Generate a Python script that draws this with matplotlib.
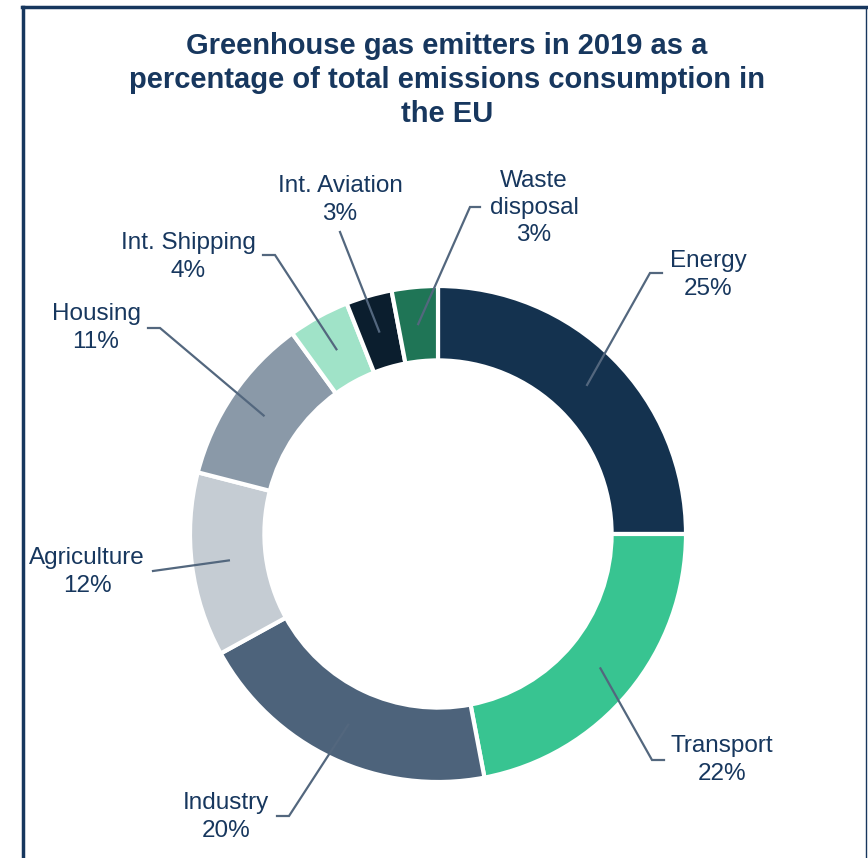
import matplotlib.pyplot as plt
import numpy as np
from matplotlib.lines import Line2D

plt.rcParams['font.family'] = ['Liberation Sans', 'DejaVu Sans']

labels = ["Energy", "Transport", "Industry", "Agriculture", "Housing",
          "Int. Shipping", "Int. Aviation", "Waste\ndisposal"]
values = [25, 22, 20, 12, 11, 4, 3, 3]
colors = ["#14324f", "#38c491", "#4d637b", "#c5ccd3", "#8a99a8",
          "#a0e3c8", "#0b1e2e", "#1f7556"]

W, H = 868, 858
txt_col = "#17375e"
line_col = "#53677e"

# layout of the labels in image pixels: text centre, elbow, end of leader
text_pos = [(708, 275), (722, 760), (226, 817), (87, 572), (96, 328),
            (188, 257), (340, 200), (534, 208)]
elbows = [(650, 273), (652, 760), (289, 816), (153, 571), (160, 328),
          (275, 255), (340, 232), (470, 207)]
ends = [(662, 273), (664, 760), (277, 816), (153, 571), (148, 328),
        (263, 255), (340, 232), (480, 207)]

cx, cy, R = 438, 534, 248
ring = 0.3

fig = plt.figure(figsize=(W / 100, H / 100), dpi=100)
ax = fig.add_axes([0, 0, 1, 1])

def py(y):
    return H - y

wedges, _ = ax.pie(values, colors=colors, startangle=90, counterclock=False,
                   center=(cx, py(cy)), radius=R,
                   wedgeprops=dict(width=R * ring, edgecolor='white', linewidth=3))
ax.set_xlim(0, W)
ax.set_ylim(0, H)
ax.set_aspect('equal')
ax.axis('off')

total = sum(values)
start = 0
for i, v in enumerate(values):
    mid = start + v / 2
    start += v
    ang = np.deg2rad(90 - mid / total * 360)
    rm = R * (1 - ring / 2)
    ax_x = cx + rm * np.cos(ang)
    ax_y = py(cy) + rm * np.sin(ang)
    ex, ey = elbows[i]
    nx, ny = ends[i]
    ax.plot([ax_x, ex, nx], [ax_y, py(ey), py(ny)], color=line_col, lw=1.6,
            solid_joinstyle='miter')
    tx, ty = text_pos[i]
    ax.text(tx, py(ty), f"{labels[i]}\n{v}%", ha='center', va='center',
            fontsize=17.5, color=txt_col, linespacing=1.3)

ax.text(447, py(80), "Greenhouse gas emitters in 2019 as a\npercentage of total emissions consumption in\nthe EU",
        ha='center', va='center', fontsize=21, fontweight='bold', color=txt_col,
        linespacing=1.28)

# frame
fig.add_artist(Line2D([22.5 / W, 22.5 / W], [0, 1 - 7 / H], transform=fig.transFigure,
                      color="#17375e", lw=2.5))
fig.add_artist(Line2D([21.5 / W, 866 / W], [1 - 7 / H, 1 - 7 / H], transform=fig.transFigure,
                      color="#17375e", lw=2.5))
fig.add_artist(Line2D([866 / W, 866 / W], [0, 1 - 7 / H], transform=fig.transFigure,
                      color="#17375e", lw=1))

fig.savefig("out.png", dpi=100)
